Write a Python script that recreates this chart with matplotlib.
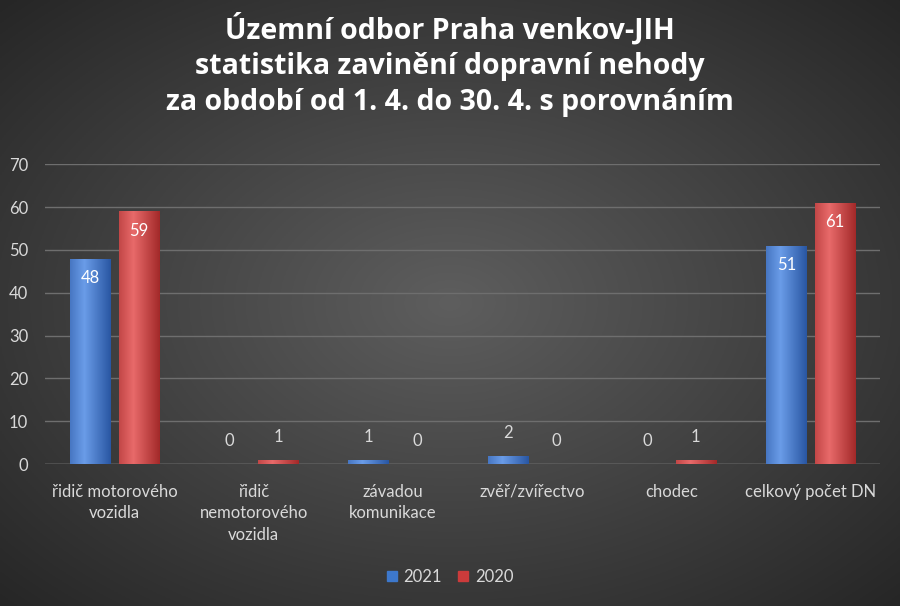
import matplotlib
matplotlib.use("Agg")
import matplotlib.pyplot as plt
import numpy as np

categories = ["řidič motorového\nvozidla", "řidič\nnemotorového\nvozidla", "závadou\nkomunikace",
              "zvěř/zvířectvo", "chodec", "celkový počet DN"]
v2021 = [48, 0, 1, 2, 0, 51]
v2020 = [59, 1, 0, 0, 1, 61]
yticks = [0, 10, 20, 30, 40, 50, 60, 70]

plt.rcParams['font.family'] = ['Lato', 'DejaVu Sans']
fig = plt.figure(figsize=(9, 6.06), dpi=100)

bg = fig.add_axes([0, 0, 1, 1], zorder=-10)
yy, xx = np.mgrid[-1:1:300j, -1:1:450j]
r = np.sqrt(xx**2 + yy**2) / np.sqrt(2)
c0 = np.array([0x5e, 0x5e, 0x5e]) / 255
c1 = np.array([0x26, 0x26, 0x26]) / 255
img = c0[None, None, :] * (1 - r[..., None]) + c1[None, None, :] * r[..., None]
bg.imshow(img, aspect='auto', extent=[0, 1, 0, 1])
bg.axis('off')

ax = fig.add_axes([0.05, 0.234, 0.928, 0.495])
ax.patch.set_alpha(0)
x = np.arange(len(categories))
w = 0.29
off = 0.175

def grad_bars(xs, vals, base, light, dark):
    bars = ax.bar(xs, vals, w, color=base, zorder=3)
    for b, v in zip(bars, vals):
        x0, y0 = b.get_x(), b.get_y()
        h = max(b.get_height(), 0.0001)
        g = np.linspace(0, 1, 64)
        prof = np.clip(1 - np.abs(g - 0.35) * 1.4, 0, 1)
        col = dark[None, :] * (1 - prof[:, None]) + light[None, :] * prof[:, None]
        im = ax.imshow(col[None, :, :], aspect='auto', extent=[x0, x0 + b.get_width(), y0, y0 + h], zorder=4)
        im.set_clip_path(b)
        if v >= 10:
            ax.text(x0 + b.get_width() / 2, v - 4.5, str(v), ha='center', va='center',
                    color='white', fontsize=12, zorder=5)
        else:
            ax.text(x0 + b.get_width() / 2, v + 5.3, str(v), ha='center', va='center',
                    color='#d9d9d9', fontsize=12, zorder=5)

grad_bars(x - off, v2021, '#3d78cc', np.array([0x6a, 0x9c, 0xe8]) / 255, np.array([0x23, 0x50, 0x9c]) / 255)
grad_bars(x + off, v2020, '#cc3b3b', np.array([0xe8, 0x6a, 0x6a]) / 255, np.array([0x9c, 0x23, 0x23]) / 255)

ax.set_xlim(-0.5, len(categories) - 0.5)
ax.set_ylim(0, 70)
ax.set_yticks(yticks)
ax.set_xticks(x)
ax.set_xticklabels(categories, color='#d9d9d9', fontsize=12, va='top', linespacing=1.45)
ax.tick_params(axis='y', colors='#d9d9d9', labelsize=12, length=0, pad=12)
ax.tick_params(axis='x', length=0, pad=14)
for lab in ax.get_xticklabels():
    lab.set_multialignment('center')
ax.grid(axis='y', color='#6e6e6e', linewidth=1, zorder=0)
ax.set_axisbelow(True)
for s in ax.spines.values():
    s.set_visible(False)
ax.axhline(0, color='#8a8a8a', linewidth=1, zorder=2)

fig.text(0.5, 0.893, "Územní odbor Praha venkov-JIH\nstatistika zavinění dopravní nehody\nza období od 1. 4. do 30. 4. s porovnáním",
         ha='center', va='center', color='white', fontsize=20.5, fontweight='bold', linespacing=1.3,
         family=['Open Sans', 'DejaVu Sans'])

from matplotlib.patches import Patch
leg = fig.legend(handles=[Patch(color='#3d78cc', label='2021'), Patch(color='#cc3b3b', label='2020')],
                 loc='center', bbox_to_anchor=(0.5, 0.048), ncol=2, frameon=False,
                 fontsize=12, handlelength=0.6, handleheight=0.6, columnspacing=1.0, handletextpad=0.4)
for t in leg.get_texts():
    t.set_color('#d9d9d9')

fig.savefig("out.png", dpi=100)
